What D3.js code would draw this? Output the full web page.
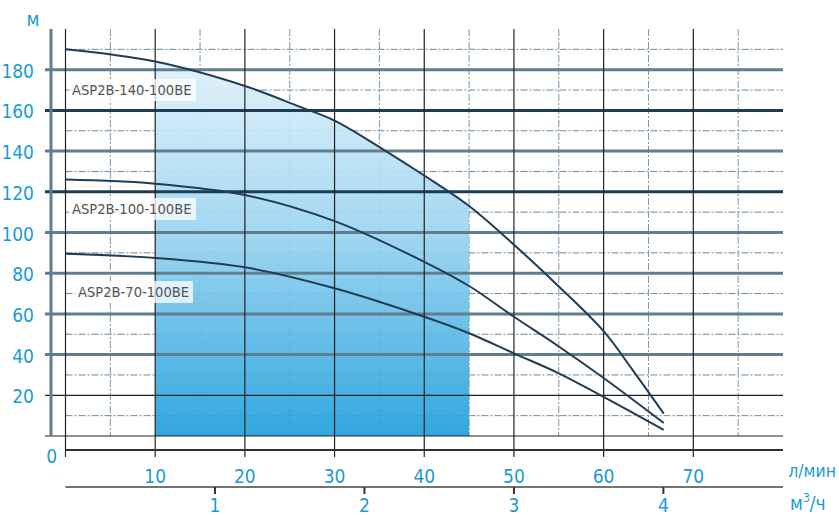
<!DOCTYPE html>
<html>
<head>
<meta charset="utf-8">
<script src="https://d3js.org/d3.v7.min.js"></script>
<style>
    body { margin: 0; background: #fff; }
    .tick-label { font-family: "DejaVu Sans Condensed", "Liberation Sans Narrow", sans-serif; font-stretch: condensed; font-size: 19px; fill: #1a9ad8; }
    .curve-label { font-family: "DejaVu Sans Condensed", "Liberation Sans Narrow", sans-serif; font-stretch: condensed; font-size: 14.6px; fill: #555; }
</style>
</head>
<body>
<script>
    // pump curves, flow in l/min, head in m
    var flow140 = [0, 10, 20, 26, 30, 35, 40, 45, 50, 55, 60, 63.3, 66.7];
    var head140 = [190, 184, 172, 162, 155, 142, 128, 113, 94, 73.5, 51.5, 32, 11];
    var flow100 = [0, 10, 20, 30, 40, 45, 50, 55, 60, 66.7];
    var head100 = [126, 124, 118.4, 105.6, 85.6, 73.7, 58.6, 44, 28.5, 6.4];
    var flow70 = [0, 10, 20, 30, 40, 45, 50, 55, 60, 66.7];
    var head70 = [89.5, 87.5, 82.9, 72.6, 58.6, 50.5, 40.6, 30.8, 19.2, 3];

    var curveNames = ["ASP2B-140-100BE", "ASP2B-100-100BE", "ASP2B-70-100BE"];
    var headTicks = [20, 40, 60, 80, 100, 120, 140, 160, 180];
    var flowTicks = [10, 20, 30, 40, 50, 60, 70];
    var m3hTicks = [1, 2, 3, 4];
    var workRange = [10, 45];

    var W = 839, H = 515;
    var svg = d3.select("body").append("svg")
        .attr("width", W)
        .attr("height", H);

    var x = d3.scaleLinear().domain([0, 80]).range([65.5, 783]);
    var y = d3.scaleLinear().domain([0, 200]).range([436, 29]);

    var defs = svg.append("defs");
    var grad = defs.append("linearGradient")
        .attr("id", "shade")
        .attr("x1", 0).attr("y1", 0).attr("x2", 0).attr("y2", 1);
    grad.append("stop").attr("offset", "0%").attr("stop-color", "#e4f3fa");
    grad.append("stop").attr("offset", "45%").attr("stop-color", "#9fd6f1");
    grad.append("stop").attr("offset", "100%").attr("stop-color", "#1f9fdc");

    defs.append("clipPath").attr("id", "work")
        .append("rect")
        .attr("x", x(workRange[0]))
        .attr("y", y(200))
        .attr("width", x(workRange[1]) - x(workRange[0]))
        .attr("height", y(0) - y(200));

    // minor dashed grid (under the shade)
    var minorY = d3.range(10, 201, 20);
    svg.append("g").selectAll("line")
        .data(minorY)
        .enter().append("line")
        .attr("x1", x(0)).attr("x2", x(80))
        .attr("y1", d => y(d)).attr("y2", d => y(d))
        .attr("stroke", "#6a8ba0")
        .attr("stroke-width", 1)
        .attr("stroke-dasharray", "7,2,2,2");

    var minorX = d3.range(5, 80, 10);
    svg.append("g").selectAll("line")
        .data(minorX)
        .enter().append("line")
        .attr("x1", d => x(d)).attr("x2", d => x(d))
        .attr("y1", y(200)).attr("y2", y(0))
        .attr("stroke", "#7896aa")
        .attr("stroke-width", 1)
        .attr("stroke-dasharray", "7,2,2,2");

    // working range shade under the top curve
    var line = d3.line()
        .x(d => x(d[0]))
        .y(d => y(d[1]))
        .curve(d3.curveCatmullRom.alpha(0.5));
    var area = d3.area()
        .x(d => x(d[0]))
        .y0(y(0))
        .y1(d => y(d[1]))
        .curve(d3.curveCatmullRom.alpha(0.5));
    var series = [
        flow140.map((f, i) => [f, head140[i]]),
        flow100.map((f, i) => [f, head100[i]]),
        flow70.map((f, i) => [f, head70[i]])
    ];
    svg.append("path")
        .datum(series[0])
        .attr("d", area)
        .attr("fill", "url(#shade)")
        .attr("opacity", 0.92)
        .attr("clip-path", "url(#work)");

    // major horizontal lines
    svg.append("g").selectAll("line")
        .data(headTicks.concat([0]))
        .enter().append("line")
        .attr("x1", 45).attr("x2", x(80))
        .attr("y1", d => y(d)).attr("y2", d => y(d))
        .attr("stroke", d => d <= 20 ? "#222" : (d == 160 || d == 120 ? "#1d3d52" : "#5f7f90"))
        .attr("stroke-width", d => d <= 20 ? 1.2 : 3);

    // left vertical bar
    svg.append("line")
        .attr("x1", 51).attr("x2", 51)
        .attr("y1", y(200)).attr("y2", y(0))
        .attr("stroke", "#5f7f90")
        .attr("stroke-width", 3);

    // solid verticals
    svg.append("g").selectAll("line")
        .data([0].concat(flowTicks))
        .enter().append("line")
        .attr("x1", d => x(d)).attr("x2", d => x(d))
        .attr("y1", y(200)).attr("y2", 457)
        .attr("stroke", "#222")
        .attr("stroke-width", 1.2);

    // curves
    svg.append("g").selectAll("path")
        .data(series)
        .enter().append("path")
        .attr("d", line)
        .attr("fill", "none")
        .attr("stroke", "#213c54")
        .attr("stroke-width", 2);

    // curve labels
    var labelPos = [[72, 90], [72, 209], [78, 292]];
    var lab = svg.append("g").selectAll("g")
        .data(curveNames)
        .enter().append("g");
    lab.append("rect")
        .attr("x", (d, i) => labelPos[i][0] - 3)
        .attr("y", (d, i) => labelPos[i][1] - 11)
        .attr("width", (d, i) => i == 2 ? 118 : 127)
        .attr("height", 22)
        .attr("fill", "#fff")
        .attr("opacity", 0.75);
    lab.append("text")
        .attr("class", "curve-label")
        .attr("x", (d, i) => labelPos[i][0])
        .attr("y", (d, i) => labelPos[i][1] + 5)
        .text(d => d);

    // y tick labels
    svg.append("g").selectAll("text")
        .data(headTicks)
        .enter().append("text")
        .attr("class", "tick-label")
        .attr("x", 34)
        .attr("y", d => y(d) + 8)
        .attr("text-anchor", "end")
        .text(d => d);
    svg.append("text").attr("class", "tick-label")
        .attr("x", 57).attr("y", 463).attr("text-anchor", "end").text("0");
    svg.append("text").attr("class", "tick-label")
        .attr("x", 33).attr("y", 26).attr("text-anchor", "middle").text("м");

    // l/min axis
    svg.append("line")
        .attr("x1", x(0)).attr("x2", x(80))
        .attr("y1", 450).attr("y2", 450)
        .attr("stroke", "#333").attr("stroke-width", 2);
    svg.append("g").selectAll("text")
        .data(flowTicks)
        .enter().append("text")
        .attr("class", "tick-label")
        .attr("x", d => x(d))
        .attr("y", 483)
        .attr("text-anchor", "middle")
        .text(d => d);
    svg.append("text").attr("class", "tick-label")
        .attr("x", 836).attr("y", 477)
        .attr("text-anchor", "end")
        .style("font-size", "17.5px")
        .text("л/мин");

    // m3/h axis
    var xm = d3.scaleLinear().domain([0, 80 * 60 / 1000]).range(x.range());
    svg.append("line")
        .attr("x1", x(0)).attr("x2", x(80))
        .attr("y1", 487).attr("y2", 487)
        .attr("stroke", "#444").attr("stroke-width", 1.5);
    svg.append("g").selectAll("line")
        .data(m3hTicks)
        .enter().append("line")
        .attr("x1", d => xm(d)).attr("x2", d => xm(d))
        .attr("y1", 487).attr("y2", 494)
        .attr("stroke", "#333").attr("stroke-width", 2);
    svg.append("g").selectAll("text")
        .data(m3hTicks)
        .enter().append("text")
        .attr("class", "tick-label")
        .attr("x", d => xm(d))
        .attr("y", 512)
        .attr("text-anchor", "middle")
        .text(d => d);
    var u = svg.append("text").attr("class", "tick-label")
        .attr("x", 790).attr("y", 510);
    u.append("tspan").text("м");
    u.append("tspan").attr("dy", -8).attr("font-size", 12).text("3");
    u.append("tspan").attr("dy", 8).text("/ч");
</script>
</body>
</html>
